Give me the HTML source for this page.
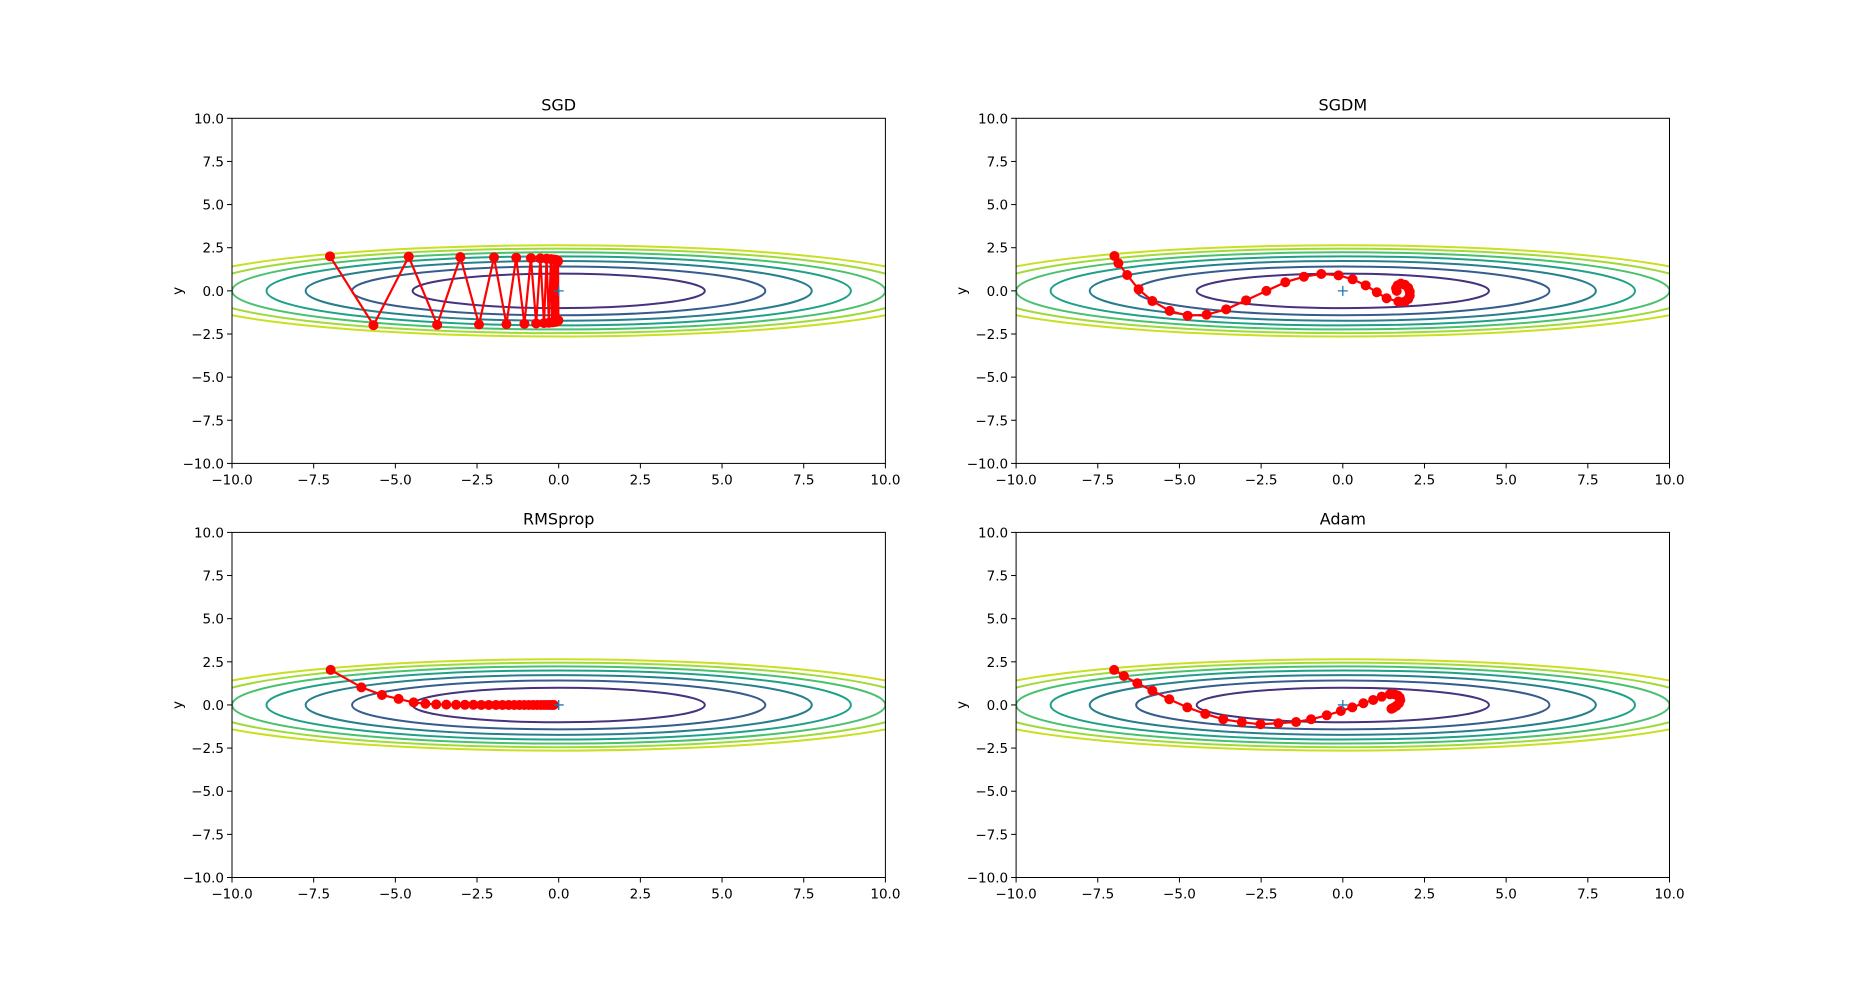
<!DOCTYPE html>
<html><head><meta charset="utf-8"><style>
html,body{margin:0;padding:0;background:#fff;}
svg{display:block;font-family:"DejaVu Sans","Liberation Sans",sans-serif;}
</style></head><body>
<svg id="fig" width="1855" height="986" viewBox="0 0 1855 986" xmlns="http://www.w3.org/2000/svg"></svg>
<script>
const titles = ["SGD","SGDM","RMSprop","Adam"];
const tickVals = [-10,-7.5,-5,-2.5,0,2.5,5,7.5,10];
const tickLabels = ["\u221210.0","\u22127.5","\u22125.0","\u22122.5","0.0","2.5","5.0","7.5","10.0"];
const levels = [1,2,3,4,5,6,7];
const levelColors = ["#46327e","#365c8d","#277f8e","#1fa187","#4ac16d","#a0da39","#c8e020"];

const sgdX = [-7,-5.67,-4.59,-3.72,-3.01,-2.44,-1.98,-1.60,-1.30,-1.05,-0.85,-0.69,-0.56,-0.45,-0.37,-0.30,-0.24,-0.20,-0.16,-0.13,-0.10,-0.08,-0.07,-0.06,-0.05,-0.04,-0.03,-0.02,-0.02,-0.01];
const sgdY = [2,-1.99,1.98,-1.97,1.96,-1.95,1.94,-1.93,1.92,-1.91,1.90,-1.89,1.88,-1.87,1.86,-1.85,1.84,-1.83,1.82,-1.81,1.80,-1.79,1.78,-1.77,1.76,-1.75,1.74,-1.73,1.72,-1.71];
const sgdmX = [-6.99,-6.87,-6.60,-6.25,-5.83,-5.30,-4.75,-4.17,-3.57,-2.96,-2.34,-1.76,-1.19,-0.66,-0.13,0.30,0.70,1.04,1.34,1.70,1.90,2.00,2.05,2.05,2.00,1.90,1.78,1.68,1.63,1.65];
const sgdmY = [2.02,1.60,0.92,0.09,-0.59,-1.16,-1.44,-1.38,-1.07,-0.55,0.0,0.50,0.82,0.98,0.90,0.67,0.32,-0.08,-0.43,-0.62,-0.62,-0.48,-0.28,-0.05,0.18,0.35,0.42,0.32,0.15,0.0];
const rmsX = [-6.98,-6.04,-5.41,-4.90,-4.44,-4.08,-3.75,-3.44,-3.14,-2.87,-2.61,-2.37,-2.14,-1.92,-1.72,-1.53,-1.36,-1.20,-1.05,-0.91,-0.78,-0.66,-0.55,-0.45,-0.36,-0.28,-0.21,-0.15];
const rmsY = [2.03,1.02,0.58,0.35,0.15,0.07,0.03,0.02,0.01,0.01,0.01,0,0,0,0,0,0,0,0,0,0,0,0,0,0,0,0,0];
const adamX = [-7.00,-6.70,-6.29,-5.83,-5.31,-4.76,-4.21,-3.66,-3.09,-2.52,-1.97,-1.43,-0.97,-0.49,-0.06,0.29,0.63,0.93,1.19,1.44,1.58,1.68,1.74,1.76,1.72,1.64,1.55,1.49];
const adamY = [2.03,1.68,1.26,0.83,0.33,-0.14,-0.52,-0.83,-1.00,-1.12,-1.06,-0.99,-0.83,-0.60,-0.35,-0.14,0.10,0.29,0.48,0.62,0.62,0.55,0.44,0.28,0.10,-0.05,-0.16,-0.22];

const seriesX = [sgdX, sgdmX, rmsX, adamX];
const seriesY = [sgdY, sgdmY, rmsY, adamY];
const NS = "http://www.w3.org/2000/svg";
const svg = document.getElementById('fig');
const boxes = [[232,118.3],[1016.1,118.3],[232,532.4],[1016.1,532.4]];
const W = 653.4, H = 345.1;
function mk(tag, attrs, parent){const e=document.createElementNS(NS,tag);for(const k in attrs)e.setAttribute(k,attrs[k]);parent.appendChild(e);return e;}

boxes.forEach((b,i)=>{
  const [L,T]=b;
  const sx=v=>L+(v+10)/20*W, sy=v=>T+(10-v)/20*H;
  const g=mk('g',{},svg);
  
  
  const cp=mk('clipPath',{id:'clip'+i},g);
  mk('rect',{x:L,y:T,width:W,height:H},cp);
  const cg=mk('g',{'clip-path':'url(#clip'+i+')'},g);
  
  
  levels.forEach((lv,j)=>{
    const rx=Math.sqrt(20*lv)*W/20, ry=Math.sqrt(lv)*H/20;
    const e=mk('ellipse',{cx:sx(0),cy:sy(0),rx:rx,ry:ry,fill:'none',stroke:levelColors[j],'stroke-width':2},cg);
    
    
  });
  const xs=seriesX[i], ys=seriesY[i];
  const pts=xs.map((x,k)=>sx(x).toFixed(1)+','+sy(ys[k]).toFixed(1)).join(' ');
  const pl=mk('polyline',{points:pts,fill:'none',stroke:'#ff0000','stroke-width':2.2},cg);
  
  
  xs.forEach((x,k)=>{
    const c=mk('circle',{cx:sx(x),cy:sy(ys[k]),r:5,fill:'#ff0000'},cg);
    
    
  });
  const plus=mk('path',{d:`M${sx(0)-5},${sy(0)}h10M${sx(0)},${sy(0)-5}v10`,stroke:'#1f77b4','stroke-width':1.3,fill:'none'},g);
  
  
  const fr=mk('rect',{x:L,y:T,width:W,height:H,fill:'none',stroke:'#000','stroke-width':1},g);
  
  
  tickVals.forEach((v,k)=>{
    mk('line',{x1:sx(v),y1:T+H,x2:sx(v),y2:T+H+5,stroke:'#000'},g);
    const tx=mk('text',{x:sx(v),y:T+H+21,'font-size':13.5,'text-anchor':'middle'},g);
    tx.textContent=tickLabels[k];
    
    
    mk('line',{x1:L-5,y1:sy(v),x2:L,y2:sy(v),stroke:'#000'},g);
    const ty=mk('text',{x:L-8,y:sy(v)+5,'font-size':13.5,'text-anchor':'end'},g);
    ty.textContent=tickLabels[k];
    
    
  });
  const yl=mk('text',{x:0,y:0,'font-size':13.5,'text-anchor':'middle',transform:`translate(${L-50},${T+H/2}) rotate(-90)`},g);
  yl.textContent='y';
  
  
  const ti=mk('text',{x:L+W/2,y:T-8,'font-size':16,'text-anchor':'middle'},g);
  ti.textContent=titles[i];
  
  
});
</script>
</body></html>
